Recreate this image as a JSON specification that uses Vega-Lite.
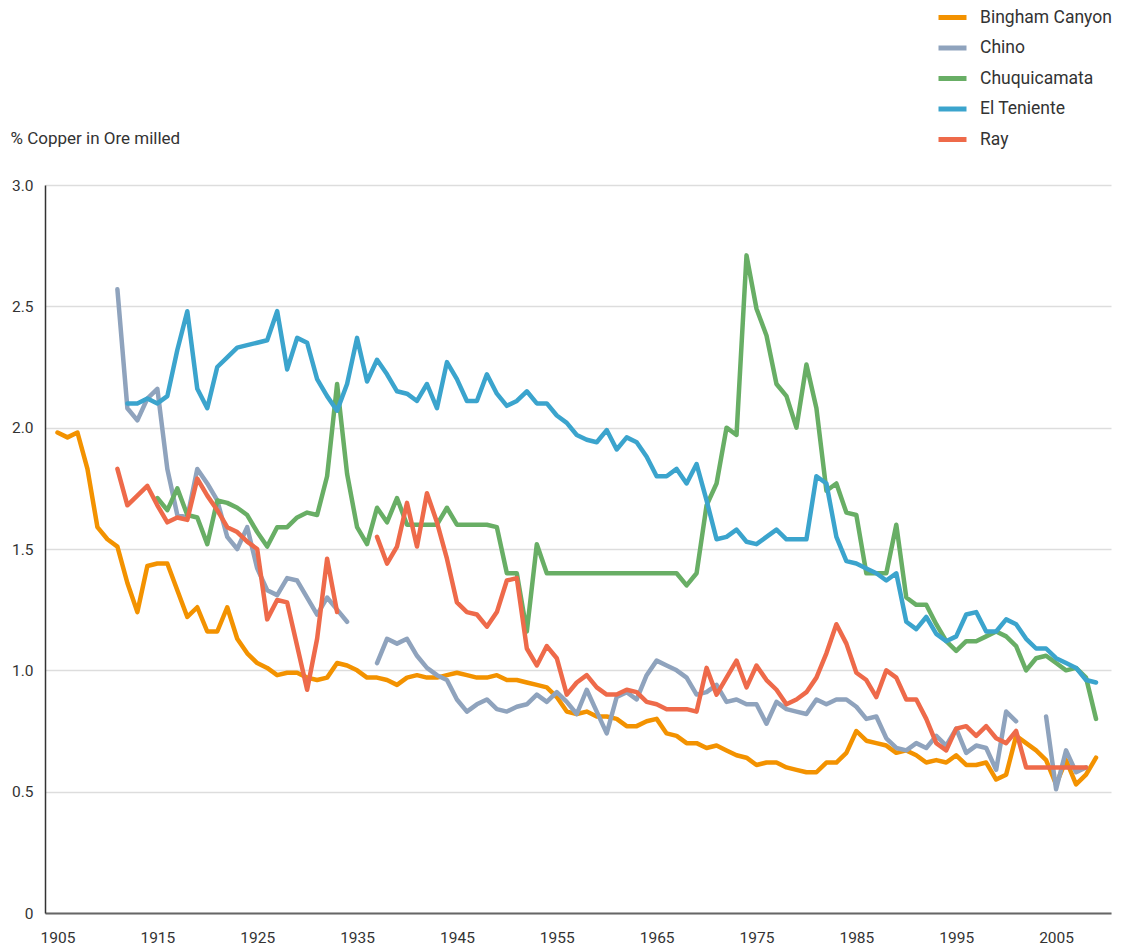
{
  "$schema": "https://vega.github.io/schema/vega-lite/v6.json",
  "autosize": {"type": "none"},
  "width": 1066,
  "height": 728,
  "padding": {"left": 45, "top": 185, "right": 11, "bottom": 34},
  "background": "white",
  "config": {
    "view": {"stroke": null},
    "font": "Roboto",
    "axis": {"labelFont": "Roboto", "titleFont": "Roboto", "labelColor": "#333333", "titleColor": "#333333"},
    "legend": {"labelFont": "Roboto"}
  },
  "data": {"values": [
    {"mine":"Bingham Canyon","year":1905,"pct":1.98},{"mine":"Bingham Canyon","year":1906,"pct":1.96},{"mine":"Bingham Canyon","year":1907,"pct":1.98},{"mine":"Bingham Canyon","year":1908,"pct":1.83},{"mine":"Bingham Canyon","year":1909,"pct":1.59},{"mine":"Bingham Canyon","year":1910,"pct":1.54},{"mine":"Bingham Canyon","year":1911,"pct":1.51},{"mine":"Bingham Canyon","year":1912,"pct":1.36},{"mine":"Bingham Canyon","year":1913,"pct":1.24},{"mine":"Bingham Canyon","year":1914,"pct":1.43},{"mine":"Bingham Canyon","year":1915,"pct":1.44},{"mine":"Bingham Canyon","year":1916,"pct":1.44},{"mine":"Bingham Canyon","year":1917,"pct":1.33},{"mine":"Bingham Canyon","year":1918,"pct":1.22},{"mine":"Bingham Canyon","year":1919,"pct":1.26},{"mine":"Bingham Canyon","year":1920,"pct":1.16},{"mine":"Bingham Canyon","year":1921,"pct":1.16},{"mine":"Bingham Canyon","year":1922,"pct":1.26},{"mine":"Bingham Canyon","year":1923,"pct":1.13},{"mine":"Bingham Canyon","year":1924,"pct":1.07},{"mine":"Bingham Canyon","year":1925,"pct":1.03},{"mine":"Bingham Canyon","year":1926,"pct":1.01},{"mine":"Bingham Canyon","year":1927,"pct":0.98},{"mine":"Bingham Canyon","year":1928,"pct":0.99},{"mine":"Bingham Canyon","year":1929,"pct":0.99},{"mine":"Bingham Canyon","year":1930,"pct":0.97},{"mine":"Bingham Canyon","year":1931,"pct":0.96},{"mine":"Bingham Canyon","year":1932,"pct":0.97},{"mine":"Bingham Canyon","year":1933,"pct":1.03},{"mine":"Bingham Canyon","year":1934,"pct":1.02},{"mine":"Bingham Canyon","year":1935,"pct":1.0},{"mine":"Bingham Canyon","year":1936,"pct":0.97},{"mine":"Bingham Canyon","year":1937,"pct":0.97},{"mine":"Bingham Canyon","year":1938,"pct":0.96},{"mine":"Bingham Canyon","year":1939,"pct":0.94},{"mine":"Bingham Canyon","year":1940,"pct":0.97},{"mine":"Bingham Canyon","year":1941,"pct":0.98},{"mine":"Bingham Canyon","year":1942,"pct":0.97},{"mine":"Bingham Canyon","year":1943,"pct":0.97},{"mine":"Bingham Canyon","year":1944,"pct":0.98},{"mine":"Bingham Canyon","year":1945,"pct":0.99},{"mine":"Bingham Canyon","year":1946,"pct":0.98},{"mine":"Bingham Canyon","year":1947,"pct":0.97},{"mine":"Bingham Canyon","year":1948,"pct":0.97},{"mine":"Bingham Canyon","year":1949,"pct":0.98},{"mine":"Bingham Canyon","year":1950,"pct":0.96},{"mine":"Bingham Canyon","year":1951,"pct":0.96},{"mine":"Bingham Canyon","year":1952,"pct":0.95},{"mine":"Bingham Canyon","year":1953,"pct":0.94},{"mine":"Bingham Canyon","year":1954,"pct":0.93},{"mine":"Bingham Canyon","year":1955,"pct":0.89},{"mine":"Bingham Canyon","year":1956,"pct":0.83},{"mine":"Bingham Canyon","year":1957,"pct":0.82},{"mine":"Bingham Canyon","year":1958,"pct":0.83},{"mine":"Bingham Canyon","year":1959,"pct":0.81},{"mine":"Bingham Canyon","year":1960,"pct":0.81},{"mine":"Bingham Canyon","year":1961,"pct":0.8},{"mine":"Bingham Canyon","year":1962,"pct":0.77},{"mine":"Bingham Canyon","year":1963,"pct":0.77},{"mine":"Bingham Canyon","year":1964,"pct":0.79},{"mine":"Bingham Canyon","year":1965,"pct":0.8},{"mine":"Bingham Canyon","year":1966,"pct":0.74},{"mine":"Bingham Canyon","year":1967,"pct":0.73},{"mine":"Bingham Canyon","year":1968,"pct":0.7},{"mine":"Bingham Canyon","year":1969,"pct":0.7},{"mine":"Bingham Canyon","year":1970,"pct":0.68},{"mine":"Bingham Canyon","year":1971,"pct":0.69},{"mine":"Bingham Canyon","year":1972,"pct":0.67},{"mine":"Bingham Canyon","year":1973,"pct":0.65},{"mine":"Bingham Canyon","year":1974,"pct":0.64},{"mine":"Bingham Canyon","year":1975,"pct":0.61},{"mine":"Bingham Canyon","year":1976,"pct":0.62},{"mine":"Bingham Canyon","year":1977,"pct":0.62},{"mine":"Bingham Canyon","year":1978,"pct":0.6},{"mine":"Bingham Canyon","year":1979,"pct":0.59},{"mine":"Bingham Canyon","year":1980,"pct":0.58},{"mine":"Bingham Canyon","year":1981,"pct":0.58},{"mine":"Bingham Canyon","year":1982,"pct":0.62},{"mine":"Bingham Canyon","year":1983,"pct":0.62},{"mine":"Bingham Canyon","year":1984,"pct":0.66},{"mine":"Bingham Canyon","year":1985,"pct":0.75},{"mine":"Bingham Canyon","year":1986,"pct":0.71},{"mine":"Bingham Canyon","year":1987,"pct":0.7},{"mine":"Bingham Canyon","year":1988,"pct":0.69},{"mine":"Bingham Canyon","year":1989,"pct":0.66},{"mine":"Bingham Canyon","year":1990,"pct":0.67},{"mine":"Bingham Canyon","year":1991,"pct":0.65},{"mine":"Bingham Canyon","year":1992,"pct":0.62},{"mine":"Bingham Canyon","year":1993,"pct":0.63},{"mine":"Bingham Canyon","year":1994,"pct":0.62},{"mine":"Bingham Canyon","year":1995,"pct":0.65},{"mine":"Bingham Canyon","year":1996,"pct":0.61},{"mine":"Bingham Canyon","year":1997,"pct":0.61},{"mine":"Bingham Canyon","year":1998,"pct":0.62},{"mine":"Bingham Canyon","year":1999,"pct":0.55},{"mine":"Bingham Canyon","year":2000,"pct":0.57},{"mine":"Bingham Canyon","year":2001,"pct":0.73},{"mine":"Bingham Canyon","year":2002,"pct":0.7},{"mine":"Bingham Canyon","year":2003,"pct":0.67},{"mine":"Bingham Canyon","year":2004,"pct":0.63},{"mine":"Bingham Canyon","year":2005,"pct":0.53},{"mine":"Bingham Canyon","year":2006,"pct":0.63},{"mine":"Bingham Canyon","year":2007,"pct":0.53},{"mine":"Bingham Canyon","year":2008,"pct":0.57},{"mine":"Bingham Canyon","year":2009,"pct":0.64},
    {"mine":"Chino","year":1911,"pct":2.57},{"mine":"Chino","year":1912,"pct":2.08},{"mine":"Chino","year":1913,"pct":2.03},{"mine":"Chino","year":1914,"pct":2.12},{"mine":"Chino","year":1915,"pct":2.16},{"mine":"Chino","year":1916,"pct":1.83},{"mine":"Chino","year":1917,"pct":1.64},{"mine":"Chino","year":1918,"pct":1.63},{"mine":"Chino","year":1919,"pct":1.83},{"mine":"Chino","year":1920,"pct":1.77},{"mine":"Chino","year":1921,"pct":1.7},{"mine":"Chino","year":1922,"pct":1.55},{"mine":"Chino","year":1923,"pct":1.5},{"mine":"Chino","year":1924,"pct":1.59},{"mine":"Chino","year":1925,"pct":1.42},{"mine":"Chino","year":1926,"pct":1.33},{"mine":"Chino","year":1927,"pct":1.31},{"mine":"Chino","year":1928,"pct":1.38},{"mine":"Chino","year":1929,"pct":1.37},{"mine":"Chino","year":1930,"pct":1.3},{"mine":"Chino","year":1931,"pct":1.23},{"mine":"Chino","year":1932,"pct":1.3},{"mine":"Chino","year":1933,"pct":1.25},{"mine":"Chino","year":1934,"pct":1.2},{"mine":"Chino","year":1935,"pct":null},{"mine":"Chino","year":1936,"pct":null},{"mine":"Chino","year":1937,"pct":1.03},{"mine":"Chino","year":1938,"pct":1.13},{"mine":"Chino","year":1939,"pct":1.11},{"mine":"Chino","year":1940,"pct":1.13},{"mine":"Chino","year":1941,"pct":1.06},{"mine":"Chino","year":1942,"pct":1.01},{"mine":"Chino","year":1943,"pct":0.98},{"mine":"Chino","year":1944,"pct":0.96},{"mine":"Chino","year":1945,"pct":0.88},{"mine":"Chino","year":1946,"pct":0.83},{"mine":"Chino","year":1947,"pct":0.86},{"mine":"Chino","year":1948,"pct":0.88},{"mine":"Chino","year":1949,"pct":0.84},{"mine":"Chino","year":1950,"pct":0.83},{"mine":"Chino","year":1951,"pct":0.85},{"mine":"Chino","year":1952,"pct":0.86},{"mine":"Chino","year":1953,"pct":0.9},{"mine":"Chino","year":1954,"pct":0.87},{"mine":"Chino","year":1955,"pct":0.91},{"mine":"Chino","year":1956,"pct":0.87},{"mine":"Chino","year":1957,"pct":0.82},{"mine":"Chino","year":1958,"pct":0.92},{"mine":"Chino","year":1959,"pct":0.83},{"mine":"Chino","year":1960,"pct":0.74},{"mine":"Chino","year":1961,"pct":0.89},{"mine":"Chino","year":1962,"pct":0.91},{"mine":"Chino","year":1963,"pct":0.88},{"mine":"Chino","year":1964,"pct":0.98},{"mine":"Chino","year":1965,"pct":1.04},{"mine":"Chino","year":1966,"pct":1.02},{"mine":"Chino","year":1967,"pct":1.0},{"mine":"Chino","year":1968,"pct":0.97},{"mine":"Chino","year":1969,"pct":0.9},{"mine":"Chino","year":1970,"pct":0.91},{"mine":"Chino","year":1971,"pct":0.94},{"mine":"Chino","year":1972,"pct":0.87},{"mine":"Chino","year":1973,"pct":0.88},{"mine":"Chino","year":1974,"pct":0.86},{"mine":"Chino","year":1975,"pct":0.86},{"mine":"Chino","year":1976,"pct":0.78},{"mine":"Chino","year":1977,"pct":0.87},{"mine":"Chino","year":1978,"pct":0.84},{"mine":"Chino","year":1979,"pct":0.83},{"mine":"Chino","year":1980,"pct":0.82},{"mine":"Chino","year":1981,"pct":0.88},{"mine":"Chino","year":1982,"pct":0.86},{"mine":"Chino","year":1983,"pct":0.88},{"mine":"Chino","year":1984,"pct":0.88},{"mine":"Chino","year":1985,"pct":0.85},{"mine":"Chino","year":1986,"pct":0.8},{"mine":"Chino","year":1987,"pct":0.81},{"mine":"Chino","year":1988,"pct":0.72},{"mine":"Chino","year":1989,"pct":0.68},{"mine":"Chino","year":1990,"pct":0.67},{"mine":"Chino","year":1991,"pct":0.7},{"mine":"Chino","year":1992,"pct":0.68},{"mine":"Chino","year":1993,"pct":0.73},{"mine":"Chino","year":1994,"pct":0.69},{"mine":"Chino","year":1995,"pct":0.76},{"mine":"Chino","year":1996,"pct":0.66},{"mine":"Chino","year":1997,"pct":0.69},{"mine":"Chino","year":1998,"pct":0.68},{"mine":"Chino","year":1999,"pct":0.59},{"mine":"Chino","year":2000,"pct":0.83},{"mine":"Chino","year":2001,"pct":0.79},{"mine":"Chino","year":2002,"pct":null},{"mine":"Chino","year":2003,"pct":null},{"mine":"Chino","year":2004,"pct":0.81},{"mine":"Chino","year":2005,"pct":0.51},{"mine":"Chino","year":2006,"pct":0.67},{"mine":"Chino","year":2007,"pct":0.58},{"mine":"Chino","year":2008,"pct":0.6},
    {"mine":"Chuquicamata","year":1915,"pct":1.71},{"mine":"Chuquicamata","year":1916,"pct":1.66},{"mine":"Chuquicamata","year":1917,"pct":1.75},{"mine":"Chuquicamata","year":1918,"pct":1.64},{"mine":"Chuquicamata","year":1919,"pct":1.63},{"mine":"Chuquicamata","year":1920,"pct":1.52},{"mine":"Chuquicamata","year":1921,"pct":1.7},{"mine":"Chuquicamata","year":1922,"pct":1.69},{"mine":"Chuquicamata","year":1923,"pct":1.67},{"mine":"Chuquicamata","year":1924,"pct":1.64},{"mine":"Chuquicamata","year":1925,"pct":1.57},{"mine":"Chuquicamata","year":1926,"pct":1.51},{"mine":"Chuquicamata","year":1927,"pct":1.59},{"mine":"Chuquicamata","year":1928,"pct":1.59},{"mine":"Chuquicamata","year":1929,"pct":1.63},{"mine":"Chuquicamata","year":1930,"pct":1.65},{"mine":"Chuquicamata","year":1931,"pct":1.64},{"mine":"Chuquicamata","year":1932,"pct":1.8},{"mine":"Chuquicamata","year":1933,"pct":2.18},{"mine":"Chuquicamata","year":1934,"pct":1.81},{"mine":"Chuquicamata","year":1935,"pct":1.59},{"mine":"Chuquicamata","year":1936,"pct":1.52},{"mine":"Chuquicamata","year":1937,"pct":1.67},{"mine":"Chuquicamata","year":1938,"pct":1.61},{"mine":"Chuquicamata","year":1939,"pct":1.71},{"mine":"Chuquicamata","year":1940,"pct":1.6},{"mine":"Chuquicamata","year":1941,"pct":1.6},{"mine":"Chuquicamata","year":1942,"pct":1.6},{"mine":"Chuquicamata","year":1943,"pct":1.6},{"mine":"Chuquicamata","year":1944,"pct":1.67},{"mine":"Chuquicamata","year":1945,"pct":1.6},{"mine":"Chuquicamata","year":1946,"pct":1.6},{"mine":"Chuquicamata","year":1947,"pct":1.6},{"mine":"Chuquicamata","year":1948,"pct":1.6},{"mine":"Chuquicamata","year":1949,"pct":1.59},{"mine":"Chuquicamata","year":1950,"pct":1.4},{"mine":"Chuquicamata","year":1951,"pct":1.4},{"mine":"Chuquicamata","year":1952,"pct":1.16},{"mine":"Chuquicamata","year":1953,"pct":1.52},{"mine":"Chuquicamata","year":1954,"pct":1.4},{"mine":"Chuquicamata","year":1955,"pct":1.4},{"mine":"Chuquicamata","year":1956,"pct":1.4},{"mine":"Chuquicamata","year":1957,"pct":1.4},{"mine":"Chuquicamata","year":1958,"pct":1.4},{"mine":"Chuquicamata","year":1959,"pct":1.4},{"mine":"Chuquicamata","year":1960,"pct":1.4},{"mine":"Chuquicamata","year":1961,"pct":1.4},{"mine":"Chuquicamata","year":1962,"pct":1.4},{"mine":"Chuquicamata","year":1963,"pct":1.4},{"mine":"Chuquicamata","year":1964,"pct":1.4},{"mine":"Chuquicamata","year":1965,"pct":1.4},{"mine":"Chuquicamata","year":1966,"pct":1.4},{"mine":"Chuquicamata","year":1967,"pct":1.4},{"mine":"Chuquicamata","year":1968,"pct":1.35},{"mine":"Chuquicamata","year":1969,"pct":1.4},{"mine":"Chuquicamata","year":1970,"pct":1.68},{"mine":"Chuquicamata","year":1971,"pct":1.77},{"mine":"Chuquicamata","year":1972,"pct":2.0},{"mine":"Chuquicamata","year":1973,"pct":1.97},{"mine":"Chuquicamata","year":1974,"pct":2.71},{"mine":"Chuquicamata","year":1975,"pct":2.49},{"mine":"Chuquicamata","year":1976,"pct":2.38},{"mine":"Chuquicamata","year":1977,"pct":2.18},{"mine":"Chuquicamata","year":1978,"pct":2.13},{"mine":"Chuquicamata","year":1979,"pct":2.0},{"mine":"Chuquicamata","year":1980,"pct":2.26},{"mine":"Chuquicamata","year":1981,"pct":2.08},{"mine":"Chuquicamata","year":1982,"pct":1.74},{"mine":"Chuquicamata","year":1983,"pct":1.77},{"mine":"Chuquicamata","year":1984,"pct":1.65},{"mine":"Chuquicamata","year":1985,"pct":1.64},{"mine":"Chuquicamata","year":1986,"pct":1.4},{"mine":"Chuquicamata","year":1987,"pct":1.4},{"mine":"Chuquicamata","year":1988,"pct":1.4},{"mine":"Chuquicamata","year":1989,"pct":1.6},{"mine":"Chuquicamata","year":1990,"pct":1.3},{"mine":"Chuquicamata","year":1991,"pct":1.27},{"mine":"Chuquicamata","year":1992,"pct":1.27},{"mine":"Chuquicamata","year":1993,"pct":1.19},{"mine":"Chuquicamata","year":1994,"pct":1.12},{"mine":"Chuquicamata","year":1995,"pct":1.08},{"mine":"Chuquicamata","year":1996,"pct":1.12},{"mine":"Chuquicamata","year":1997,"pct":1.12},{"mine":"Chuquicamata","year":1998,"pct":1.14},{"mine":"Chuquicamata","year":1999,"pct":1.16},{"mine":"Chuquicamata","year":2000,"pct":1.14},{"mine":"Chuquicamata","year":2001,"pct":1.1},{"mine":"Chuquicamata","year":2002,"pct":1.0},{"mine":"Chuquicamata","year":2003,"pct":1.05},{"mine":"Chuquicamata","year":2004,"pct":1.06},{"mine":"Chuquicamata","year":2005,"pct":1.03},{"mine":"Chuquicamata","year":2006,"pct":1.0},{"mine":"Chuquicamata","year":2007,"pct":1.01},{"mine":"Chuquicamata","year":2008,"pct":0.97},{"mine":"Chuquicamata","year":2009,"pct":0.8},
    {"mine":"El Teniente","year":1912,"pct":2.1},{"mine":"El Teniente","year":1913,"pct":2.1},{"mine":"El Teniente","year":1914,"pct":2.12},{"mine":"El Teniente","year":1915,"pct":2.1},{"mine":"El Teniente","year":1916,"pct":2.13},{"mine":"El Teniente","year":1917,"pct":2.32},{"mine":"El Teniente","year":1918,"pct":2.48},{"mine":"El Teniente","year":1919,"pct":2.16},{"mine":"El Teniente","year":1920,"pct":2.08},{"mine":"El Teniente","year":1921,"pct":2.25},{"mine":"El Teniente","year":1922,"pct":2.29},{"mine":"El Teniente","year":1923,"pct":2.33},{"mine":"El Teniente","year":1924,"pct":2.34},{"mine":"El Teniente","year":1925,"pct":2.35},{"mine":"El Teniente","year":1926,"pct":2.36},{"mine":"El Teniente","year":1927,"pct":2.48},{"mine":"El Teniente","year":1928,"pct":2.24},{"mine":"El Teniente","year":1929,"pct":2.37},{"mine":"El Teniente","year":1930,"pct":2.35},{"mine":"El Teniente","year":1931,"pct":2.2},{"mine":"El Teniente","year":1932,"pct":2.13},{"mine":"El Teniente","year":1933,"pct":2.07},{"mine":"El Teniente","year":1934,"pct":2.18},{"mine":"El Teniente","year":1935,"pct":2.37},{"mine":"El Teniente","year":1936,"pct":2.19},{"mine":"El Teniente","year":1937,"pct":2.28},{"mine":"El Teniente","year":1938,"pct":2.22},{"mine":"El Teniente","year":1939,"pct":2.15},{"mine":"El Teniente","year":1940,"pct":2.14},{"mine":"El Teniente","year":1941,"pct":2.11},{"mine":"El Teniente","year":1942,"pct":2.18},{"mine":"El Teniente","year":1943,"pct":2.08},{"mine":"El Teniente","year":1944,"pct":2.27},{"mine":"El Teniente","year":1945,"pct":2.2},{"mine":"El Teniente","year":1946,"pct":2.11},{"mine":"El Teniente","year":1947,"pct":2.11},{"mine":"El Teniente","year":1948,"pct":2.22},{"mine":"El Teniente","year":1949,"pct":2.14},{"mine":"El Teniente","year":1950,"pct":2.09},{"mine":"El Teniente","year":1951,"pct":2.11},{"mine":"El Teniente","year":1952,"pct":2.15},{"mine":"El Teniente","year":1953,"pct":2.1},{"mine":"El Teniente","year":1954,"pct":2.1},{"mine":"El Teniente","year":1955,"pct":2.05},{"mine":"El Teniente","year":1956,"pct":2.02},{"mine":"El Teniente","year":1957,"pct":1.97},{"mine":"El Teniente","year":1958,"pct":1.95},{"mine":"El Teniente","year":1959,"pct":1.94},{"mine":"El Teniente","year":1960,"pct":1.99},{"mine":"El Teniente","year":1961,"pct":1.91},{"mine":"El Teniente","year":1962,"pct":1.96},{"mine":"El Teniente","year":1963,"pct":1.94},{"mine":"El Teniente","year":1964,"pct":1.88},{"mine":"El Teniente","year":1965,"pct":1.8},{"mine":"El Teniente","year":1966,"pct":1.8},{"mine":"El Teniente","year":1967,"pct":1.83},{"mine":"El Teniente","year":1968,"pct":1.77},{"mine":"El Teniente","year":1969,"pct":1.85},{"mine":"El Teniente","year":1970,"pct":1.7},{"mine":"El Teniente","year":1971,"pct":1.54},{"mine":"El Teniente","year":1972,"pct":1.55},{"mine":"El Teniente","year":1973,"pct":1.58},{"mine":"El Teniente","year":1974,"pct":1.53},{"mine":"El Teniente","year":1975,"pct":1.52},{"mine":"El Teniente","year":1976,"pct":1.55},{"mine":"El Teniente","year":1977,"pct":1.58},{"mine":"El Teniente","year":1978,"pct":1.54},{"mine":"El Teniente","year":1979,"pct":1.54},{"mine":"El Teniente","year":1980,"pct":1.54},{"mine":"El Teniente","year":1981,"pct":1.8},{"mine":"El Teniente","year":1982,"pct":1.77},{"mine":"El Teniente","year":1983,"pct":1.55},{"mine":"El Teniente","year":1984,"pct":1.45},{"mine":"El Teniente","year":1985,"pct":1.44},{"mine":"El Teniente","year":1986,"pct":1.42},{"mine":"El Teniente","year":1987,"pct":1.4},{"mine":"El Teniente","year":1988,"pct":1.37},{"mine":"El Teniente","year":1989,"pct":1.4},{"mine":"El Teniente","year":1990,"pct":1.2},{"mine":"El Teniente","year":1991,"pct":1.17},{"mine":"El Teniente","year":1992,"pct":1.22},{"mine":"El Teniente","year":1993,"pct":1.15},{"mine":"El Teniente","year":1994,"pct":1.12},{"mine":"El Teniente","year":1995,"pct":1.14},{"mine":"El Teniente","year":1996,"pct":1.23},{"mine":"El Teniente","year":1997,"pct":1.24},{"mine":"El Teniente","year":1998,"pct":1.16},{"mine":"El Teniente","year":1999,"pct":1.16},{"mine":"El Teniente","year":2000,"pct":1.21},{"mine":"El Teniente","year":2001,"pct":1.19},{"mine":"El Teniente","year":2002,"pct":1.13},{"mine":"El Teniente","year":2003,"pct":1.09},{"mine":"El Teniente","year":2004,"pct":1.09},{"mine":"El Teniente","year":2005,"pct":1.05},{"mine":"El Teniente","year":2006,"pct":1.03},{"mine":"El Teniente","year":2007,"pct":1.01},{"mine":"El Teniente","year":2008,"pct":0.96},{"mine":"El Teniente","year":2009,"pct":0.95},
    {"mine":"Ray","year":1911,"pct":1.83},{"mine":"Ray","year":1912,"pct":1.68},{"mine":"Ray","year":1913,"pct":1.72},{"mine":"Ray","year":1914,"pct":1.76},{"mine":"Ray","year":1915,"pct":1.68},{"mine":"Ray","year":1916,"pct":1.61},{"mine":"Ray","year":1917,"pct":1.63},{"mine":"Ray","year":1918,"pct":1.62},{"mine":"Ray","year":1919,"pct":1.79},{"mine":"Ray","year":1920,"pct":1.72},{"mine":"Ray","year":1921,"pct":1.66},{"mine":"Ray","year":1922,"pct":1.59},{"mine":"Ray","year":1923,"pct":1.57},{"mine":"Ray","year":1924,"pct":1.53},{"mine":"Ray","year":1925,"pct":1.5},{"mine":"Ray","year":1926,"pct":1.21},{"mine":"Ray","year":1927,"pct":1.29},{"mine":"Ray","year":1928,"pct":1.28},{"mine":"Ray","year":1929,"pct":1.1},{"mine":"Ray","year":1930,"pct":0.92},{"mine":"Ray","year":1931,"pct":1.13},{"mine":"Ray","year":1932,"pct":1.46},{"mine":"Ray","year":1933,"pct":1.24},{"mine":"Ray","year":1934,"pct":null},{"mine":"Ray","year":1935,"pct":null},{"mine":"Ray","year":1936,"pct":null},{"mine":"Ray","year":1937,"pct":1.55},{"mine":"Ray","year":1938,"pct":1.44},{"mine":"Ray","year":1939,"pct":1.51},{"mine":"Ray","year":1940,"pct":1.69},{"mine":"Ray","year":1941,"pct":1.51},{"mine":"Ray","year":1942,"pct":1.73},{"mine":"Ray","year":1943,"pct":1.61},{"mine":"Ray","year":1944,"pct":1.46},{"mine":"Ray","year":1945,"pct":1.28},{"mine":"Ray","year":1946,"pct":1.24},{"mine":"Ray","year":1947,"pct":1.23},{"mine":"Ray","year":1948,"pct":1.18},{"mine":"Ray","year":1949,"pct":1.24},{"mine":"Ray","year":1950,"pct":1.37},{"mine":"Ray","year":1951,"pct":1.38},{"mine":"Ray","year":1952,"pct":1.09},{"mine":"Ray","year":1953,"pct":1.02},{"mine":"Ray","year":1954,"pct":1.1},{"mine":"Ray","year":1955,"pct":1.05},{"mine":"Ray","year":1956,"pct":0.9},{"mine":"Ray","year":1957,"pct":0.95},{"mine":"Ray","year":1958,"pct":0.98},{"mine":"Ray","year":1959,"pct":0.93},{"mine":"Ray","year":1960,"pct":0.9},{"mine":"Ray","year":1961,"pct":0.9},{"mine":"Ray","year":1962,"pct":0.92},{"mine":"Ray","year":1963,"pct":0.91},{"mine":"Ray","year":1964,"pct":0.87},{"mine":"Ray","year":1965,"pct":0.86},{"mine":"Ray","year":1966,"pct":0.84},{"mine":"Ray","year":1967,"pct":0.84},{"mine":"Ray","year":1968,"pct":0.84},{"mine":"Ray","year":1969,"pct":0.83},{"mine":"Ray","year":1970,"pct":1.01},{"mine":"Ray","year":1971,"pct":0.9},{"mine":"Ray","year":1972,"pct":0.97},{"mine":"Ray","year":1973,"pct":1.04},{"mine":"Ray","year":1974,"pct":0.93},{"mine":"Ray","year":1975,"pct":1.02},{"mine":"Ray","year":1976,"pct":0.96},{"mine":"Ray","year":1977,"pct":0.92},{"mine":"Ray","year":1978,"pct":0.86},{"mine":"Ray","year":1979,"pct":0.88},{"mine":"Ray","year":1980,"pct":0.91},{"mine":"Ray","year":1981,"pct":0.97},{"mine":"Ray","year":1982,"pct":1.07},{"mine":"Ray","year":1983,"pct":1.19},{"mine":"Ray","year":1984,"pct":1.11},{"mine":"Ray","year":1985,"pct":0.99},{"mine":"Ray","year":1986,"pct":0.96},{"mine":"Ray","year":1987,"pct":0.89},{"mine":"Ray","year":1988,"pct":1.0},{"mine":"Ray","year":1989,"pct":0.97},{"mine":"Ray","year":1990,"pct":0.88},{"mine":"Ray","year":1991,"pct":0.88},{"mine":"Ray","year":1992,"pct":0.8},{"mine":"Ray","year":1993,"pct":0.7},{"mine":"Ray","year":1994,"pct":0.67},{"mine":"Ray","year":1995,"pct":0.76},{"mine":"Ray","year":1996,"pct":0.77},{"mine":"Ray","year":1997,"pct":0.73},{"mine":"Ray","year":1998,"pct":0.77},{"mine":"Ray","year":1999,"pct":0.72},{"mine":"Ray","year":2000,"pct":0.7},{"mine":"Ray","year":2001,"pct":0.75},{"mine":"Ray","year":2002,"pct":0.6},{"mine":"Ray","year":2003,"pct":0.6},{"mine":"Ray","year":2004,"pct":0.6},{"mine":"Ray","year":2005,"pct":0.6},{"mine":"Ray","year":2006,"pct":0.6},{"mine":"Ray","year":2007,"pct":0.6},{"mine":"Ray","year":2008,"pct":0.6}
  ]},
  "mark": {"type": "line", "strokeWidth": 4.5, "strokeJoin": "round", "strokeCap": "round", "invalid": "break-paths-show-domains"},
  "encoding": {
    "x": {
      "field": "year", "type": "quantitative",
      "scale": {"domain": [1903.75, 2010.5], "nice": false, "zero": false},
      "axis": {
        "title": null, "values": [1905,1915,1925,1935,1945,1955,1965,1975,1985,1995,2005],
        "format": "d", "grid": false, "ticks": false, "labelPadding": 17,
        "labelFontSize": 15.5, "domainColor": "#666666", "domainWidth": 2, "labelFlush": false
      }
    },
    "y": {
      "field": "pct", "type": "quantitative",
      "scale": {"domain": [0, 3], "nice": false},
      "axis": {
        "title": "% Copper in Ore milled", "titleAngle": 0, "titleAlign": "left", "titleBaseline": "alphabetic",
        "titleX": -35, "titleY": -42, "titleFontSize": 17, "titleFontWeight": "normal",
        "values": [0, 0.5, 1, 1.5, 2, 2.5, 3],
        "labelExpr": "datum.value == 0 ? '0' : format(datum.value, '.1f')",
        "labelFontSize": 15.5, "labelPadding": 12, "ticks": false,
        "grid": true, "gridColor": "#dddddd", "gridWidth": 1.5,
        "domainColor": "#333333", "domainWidth": 1.5
      }
    },
    "color": {
      "field": "mine", "type": "nominal",
      "scale": {
        "domain": ["Bingham Canyon", "Chino", "Chuquicamata", "El Teniente", "Ray"],
        "range": ["#F39200", "#8FA3BD", "#68AE65", "#3BA4CD", "#EE6A4A"]
      },
      "legend": {
        "title": null, "orient": "none", "legendX": 891, "legendY": -184,
        "symbolType": "stroke", "symbolSize": 784, "symbolStrokeWidth": 5,
        "labelFontSize": 17.5, "labelColor": "#333333", "labelOffset": 11, "rowPadding": 3.5
      }
    }
  }
}
